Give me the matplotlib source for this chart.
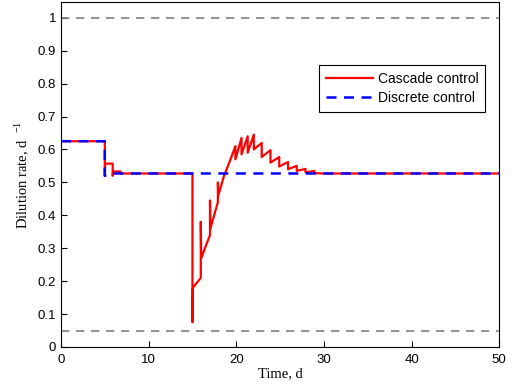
import numpy as np
import matplotlib.pyplot as plt

# cascade control
t_cascade = [0, 5, 5, 5.05, 5.9, 5.9, 5.95, 6.8, 6.8, 15, 15, 15.05, 15.95, 15.95, 16.0,
             17.0, 17.0, 17.05, 17.9, 17.9, 17.95, 18.6, 19.2, 19.9, 19.9,
             20.6, 20.6, 21.3, 21.3, 22.0, 22.0, 22.9, 22.9, 23.9, 23.9,
             24.9, 24.9, 25.9, 25.9, 26.9, 26.9, 27.9, 27.9, 28.9, 28.9, 30, 50]
d_cascade = [0.625, 0.625, 0.52, 0.557, 0.557, 0.52, 0.533, 0.533, 0.527, 0.527, 0.075, 0.18, 0.21, 0.38, 0.27,
             0.34, 0.445, 0.36, 0.44, 0.50, 0.46, 0.52, 0.56, 0.61, 0.57,
             0.635, 0.585, 0.64, 0.59, 0.645, 0.60, 0.62, 0.577, 0.598, 0.56,
             0.577, 0.548, 0.562, 0.54, 0.55, 0.535, 0.541, 0.53, 0.535, 0.528, 0.527, 0.527]

# discrete control
t_discrete = [0, 5, 5, 5.5, 50]
d_discrete = [0.625, 0.625, 0.52, 0.527, 0.527]

# operating limits
d_min, d_max = 0.05, 1.0

fig = plt.figure(figsize=(5.15, 3.89), dpi=100)
ax = fig.add_axes([0.1184, 0.108, 0.851, 0.887])

ax.axhline(d_max, color='#808080', ls=(0, (5, 4)), lw=1.2)
ax.axhline(d_min, color='#808080', ls=(0, (5, 4)), lw=1.2)
ax.plot(t_cascade, d_cascade, color='#ff0000', lw=1.6, label='Cascade control')
ax.plot(t_discrete, d_discrete, color='#0000ff', lw=1.8, ls=(0, (4, 3)), label='Discrete control')

ax.set_xlim(0, 50)
ax.set_ylim(0, 1.048)
ax.set_xticks(np.arange(0, 51, 10))
ax.set_yticks(np.arange(0, 1.01, 0.1))
ax.set_yticklabels(['0', '0.1', '0.2', '0.3', '0.4', '0.5', '0.6', '0.7', '0.8', '0.9', '1'])
ax.tick_params(direction='in', labelsize=9.5, length=4, width=0.8)
ax.tick_params(axis='x', pad=5)
for lab in ax.get_xticklabels() + ax.get_yticklabels():
    lab.set_family('Liberation Sans')

ax.set_xlabel('Time, d', family='Liberation Serif', fontsize=10.5, labelpad=1)
ax.set_ylabel(r'Dilution rate, d $^{\ \mathregular{-1}}$', family='Liberation Serif', fontsize=10.5, labelpad=5)

leg = ax.legend(loc='upper right', bbox_to_anchor=(0.968, 0.817), borderaxespad=0,
                prop={'family': 'Liberation Sans', 'size': 10},
                fancybox=False, edgecolor='black', framealpha=1, handlelength=3.4, borderpad=0.5,
                labelspacing=0.35, handletextpad=0.3)
leg.get_frame().set_linewidth(0.8)

fig.savefig('out.png', dpi=100)
